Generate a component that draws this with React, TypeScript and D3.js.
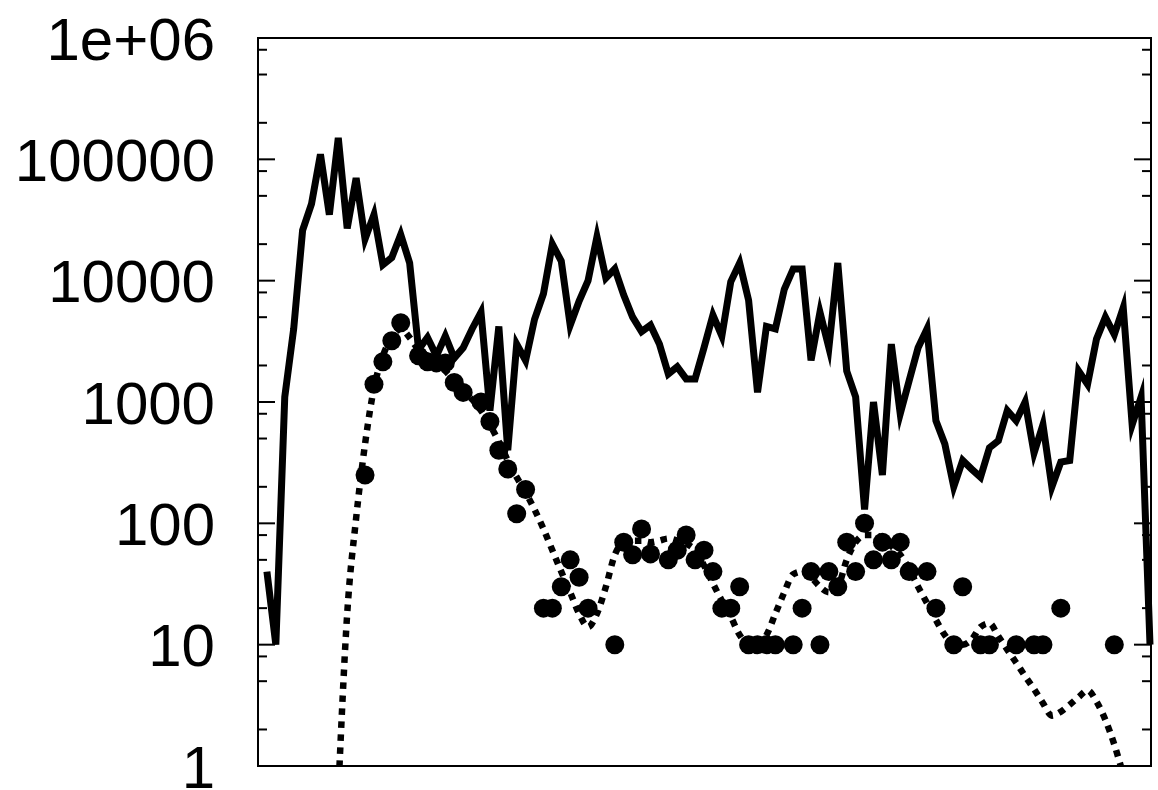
import React, { useEffect, useRef } from 'react';
import * as d3 from 'd3';

const WIDTH = 1158;
const HEIGHT = 790;

// solid line: one value per bin, bins 1..100
const totalCounts = [
  40, 10, 1100, 4000, 26000, 43000, 110000, 35000, 150000, 27000,
  70000, 22000, 35000, 13500, 15500, 24000, 14000, 2700, 3400, 2400,
  3500, 2300, 2800, 4000, 5500, 850, 4200, 400, 3000, 2200,
  4800, 7800, 20000, 14500, 4300, 6800, 10000, 23000, 10500, 12500,
  7600, 5000, 3800, 4300, 3000, 1700, 1950, 1550, 1550, 2800,
  5200, 3500, 9800, 14000, 6900, 1200, 4200, 4000, 8500, 12500,
  12500, 2200, 5500, 2800, 14000, 1800, 1100, 130, 1000, 250,
  3000, 800, 1500, 2800, 4000, 700, 450, 200, 330, 280,
  240, 420, 480, 850, 700, 1000, 380, 650, 200, 320,
  330, 1800, 1400, 3300, 5000, 3600, 6000, 650, 1100, 10,
];

// dotted model curve, bins 9..97
const modelFirstBin = 9;
const modelCounts = [
  0.6, 18, 110, 450, 1300, 2400, 3400, 4000, 3400, 2700,
  2400, 2100, 1800, 1500, 1250, 1050, 850, 650, 470, 330,
  240, 180, 130, 90, 60, 40, 27, 18, 14, 18,
  30, 55, 70, 72, 72, 70, 72, 75, 72, 68,
  60, 45, 32, 23, 17, 12, 10, 10, 12, 18,
  27, 38, 40, 36, 30, 27, 30, 50, 70, 80,
  80, 75, 65, 55, 42, 30, 22, 16, 12, 10,
  10, 11, 14, 15, 11.7, 9.1, 7.1, 5.5, 4.3, 3.3,
  2.6, 2.8, 3.2, 3.7, 4.2, 3.4, 2.4, 1.5, 0.85,
];

// filled points
const pointBins = [
  12, 13, 14, 15, 16, 18, 19, 20, 21, 22, 23, 25, 26, 27, 28, 29, 30,
  32, 33, 34, 35, 36, 37, 40, 41, 42, 43, 44, 46, 47, 48, 49, 50,
  51, 52, 53, 54, 55, 56, 57, 58, 60, 61, 62, 63, 64, 65, 66, 67,
  68, 69, 70, 71, 72, 73, 75, 76, 78, 79, 81, 82, 85, 87, 88, 90, 96,
];
const pointCounts = [
  250, 1400, 2150, 3200, 4500, 2400, 2150, 2100, 2100, 1450, 1200, 1000, 690, 400, 280, 120, 190,
  20, 20, 30, 50, 36, 20, 10, 70, 55, 90, 56, 50, 60, 80, 50, 60,
  40, 20, 20, 30, 10, 10, 10, 10, 10, 20, 40, 10, 40, 30, 70, 40,
  100, 50, 70, 50, 70, 40, 40, 20, 10, 30, 10, 10, 10, 10, 10, 20, 10,
];

const yTickValues = [1, 10, 100, 1000, 10000, 100000, 1000000];
const yTickLabels = ['1', '10', '100', '1000', '10000', '100000', '1e+06'];
const minorSteps = [2, 5, 8];

export default function App() {
  const svgRef = useRef<SVGSVGElement>(null);

  useEffect(() => {
    if (!svgRef.current) return;
    const svg = d3.select(svgRef.current);
    svg.selectAll('*').remove();

    const left = 258, right = 1151, top = 38, bottom = 766;

    const x = d3.scaleLinear().domain([0, 100]).range([left, right - 1]);
    const y = d3.scaleLog().domain([1, 1e6]).range([bottom, top]);

    svg.append('defs').append('clipPath').attr('id', 'plot-clip')
      .append('rect')
      .attr('x', left).attr('y', top)
      .attr('width', WIDTH - left).attr('height', bottom - top);

    const g = svg.append('g');

    // dotted model
    const modelData = modelCounts.map((v, i) => ({ bin: modelFirstBin + i, v }));
    const modelLine = d3.line<{ bin: number; v: number }>()
      .x(d => x(d.bin))
      .y(d => y(d.v))
      .curve(d3.curveMonotoneX);
    g.append('path')
      .datum(modelData)
      .attr('clip-path', 'url(#plot-clip)')
      .attr('d', modelLine)
      .attr('fill', 'none')
      .attr('stroke', '#000')
      .attr('stroke-width', 6.5)
      .attr('stroke-dasharray', '6.5,6.5');

    // solid totals
    const totalData = totalCounts.map((v, i) => ({ bin: i + 1, v }));
    const totalLine = d3.line<{ bin: number; v: number }>()
      .x(d => x(d.bin))
      .y(d => y(d.v));
    g.append('path')
      .datum(totalData)
      .attr('clip-path', 'url(#plot-clip)')
      .attr('d', totalLine)
      .attr('fill', 'none')
      .attr('stroke', '#000')
      .attr('stroke-width', 7)
      .attr('stroke-linejoin', 'miter')
      .attr('stroke-miterlimit', 6);

    // points
    g.selectAll('circle.pt')
      .data(pointBins.map((b, i) => ({ bin: b, v: pointCounts[i] })))
      .join('circle')
      .attr('class', 'pt')
      .attr('cx', d => x(d.bin))
      .attr('cy', d => y(d.v))
      .attr('r', 9.5)
      .attr('fill', '#000');

    // border
    svg.append('rect')
      .attr('x', left).attr('y', top)
      .attr('width', right - left).attr('height', bottom - top)
      .attr('fill', 'none')
      .attr('stroke', '#000')
      .attr('stroke-width', 2);

    // ticks, both sides pointing inward
    const ticks = svg.append('g').attr('stroke', '#000').attr('stroke-width', 2);
    yTickValues.forEach((t, i) => {
      ticks.append('line').attr('x1', left).attr('x2', left + 17).attr('y1', y(t)).attr('y2', y(t));
      ticks.append('line').attr('x1', right).attr('x2', right - 17).attr('y1', y(t)).attr('y2', y(t));
      if (i < yTickValues.length - 1) {
        minorSteps.forEach(m => {
          const ty = y(t * m);
          ticks.append('line').attr('x1', left).attr('x2', left + 9).attr('y1', ty).attr('y2', ty);
          ticks.append('line').attr('x1', right).attr('x2', right - 9).attr('y1', ty).attr('y2', ty);
        });
      }
    });

    svg.append('g')
      .selectAll('text')
      .data(yTickValues)
      .join('text')
      .attr('x', 215)
      .attr('y', d => y(d))
      .attr('dy', '0.36em')
      .attr('text-anchor', 'end')
      .attr('font-family', '"Liberation Sans", Arial, Helvetica, sans-serif')
      .attr('font-size', 60)
      .attr('fill', '#000')
      .text((d, i) => yTickLabels[i]);
  }, []);

  return (
    <div style={{ position: 'absolute', left: 0, top: 0, background: '#fff' }}>
      <svg ref={svgRef} width={WIDTH} height={HEIGHT} style={{ display: 'block' }} />
    </div>
  );
}
